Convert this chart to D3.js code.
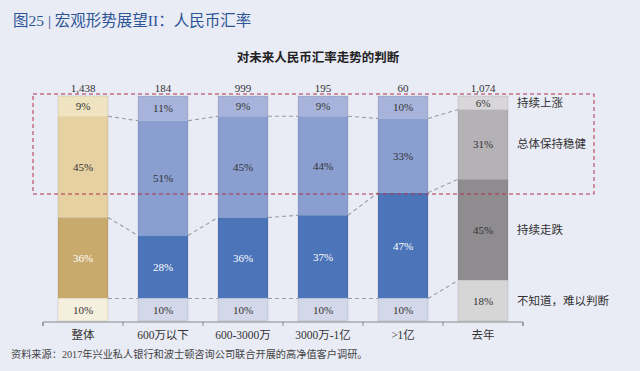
<!DOCTYPE html>
<html lang="zh">
<head>
<meta charset="UTF-8">
<title>对未来人民币汇率走势的判断</title>
<script src="https://d3js.org/d3.v7.min.js"></script>
<style>
  body { margin: 0; background: #e9ebf5; }
  svg { display: block; font-family: "Liberation Serif", "Noto Sans CJK SC", serif; }
</style>
</head>
<body>
<div id="chart"></div>
<script>
// categories, sample sizes and shares (top to bottom)
const categories = ["整体", "600万以下", "600-3000万", "3000万-1亿", ">1亿", "去年"];
const counts = ["1,438", "184", "999", "195", "60", "1,074"];
const seriesNames = ["持续上涨", "总体保持稳健", "持续走跌", "不知道，难以判断"];
const rise   = [9, 11, 9, 9, 10, 6];
const stable = [45, 51, 45, 44, 33, 31];
const fall   = [36, 28, 36, 37, 47, 45];
const unsure = [10, 10, 10, 10, 10, 18];

// colours per bar group: [rise, stable, fall, unsure]
const palettes = {
  total: ["#efe3c0", "#e6d1a3", "#c8aa6c", "#f5efdd"],
  blue:  ["#a7b3da", "#8a9ed0", "#4c74b9", "#d3d7ea"],
  gray:  ["#d8d6d8", "#b5b2b6", "#8e8c8f", "#d7d6d6"]
};
const paletteOf = i => i === 0 ? palettes.total : (i === 5 ? palettes.gray : palettes.blue);
const textColors = ["#333", "#333", "#fff", "#333"];

const W = 640, H = 371;
const svg = d3.select("#chart").append("svg").attr("width", W).attr("height", H);

svg.append("rect").attr("width", W).attr("height", H).attr("fill", "#e9ebf5");

// header and title
svg.append("text").attr("x", 13).attr("y", 26)
  .attr("font-size", 15.5).attr("fill", "#2d5596")
  .text("图25 | 宏观形势展望II：人民币汇率");
svg.append("text").attr("x", 318).attr("y", 62)
  .attr("text-anchor", "middle").attr("font-size", 12.5).attr("font-weight", "bold")
  .attr("font-family", "Noto Sans CJK SC").attr("fill", "#222")
  .text("对未来人民币汇率走势的判断");

const x = d3.scaleBand().domain(categories).range([43, 523]).paddingInner(0.375).paddingOuter(0.1875);
const y = d3.scaleLinear().domain([0, 100]).range([321, 96]);

const table = categories.map((c, i) => {
  const vals = [rise[i], stable[i], fall[i], unsure[i]];
  let top = 100;
  return vals.map((v, k) => {
    const seg = { cat: c, i, k, v, y0: top, y1: top - v };
    top -= v;
    return seg;
  });
});

// dashed connectors between neighbouring bars
const g = svg.append("g");
for (let i = 0; i < categories.length - 1; i++) {
  for (let k = 0; k < 3; k++) {
    const a = table[i][k].y1, b = table[i + 1][k].y1;
    g.append("line")
      .attr("x1", x(categories[i]) + x.bandwidth()).attr("y1", y(a))
      .attr("x2", x(categories[i + 1])).attr("y2", y(b))
      .attr("stroke", "#9a9ca8").attr("stroke-width", 1.1)
      .attr("stroke-dasharray", "4,3");
  }
}

// segments
table.forEach(segs => {
  const pal = paletteOf(segs[0].i);
  segs.forEach(s => {
    g.append("rect")
      .attr("x", x(s.cat)).attr("width", x.bandwidth())
      .attr("y", y(s.y0)).attr("height", y(s.y1) - y(s.y0))
      .attr("fill", pal[s.k]);
    g.append("text")
      .attr("x", x(s.cat) + x.bandwidth() / 2)
      .attr("y", (y(s.y0) + y(s.y1)) / 2 + 4)
      .attr("text-anchor", "middle").attr("font-size", 11)
      .attr("fill", s.i === 5 ? "#333" : textColors[s.k])
      .text(s.v + "%");
  });
  g.append("rect")
    .attr("x", x(segs[0].cat)).attr("width", x.bandwidth())
    .attr("y", y(100)).attr("height", y(0) - y(100))
    .attr("fill", "none").attr("stroke", "rgba(0,0,0,0.12)").attr("stroke-width", 0.8);
});

// sample sizes
svg.selectAll(".count").data(categories).enter().append("text")
  .attr("x", d => x(d) + x.bandwidth() / 2).attr("y", 92)
  .attr("text-anchor", "middle").attr("font-size", 11).attr("fill", "#333")
  .text((d, i) => counts[i]);

// series labels aligned to last bar
const last = table[table.length - 1];
seriesNames.forEach((n, k) => {
  svg.append("text")
    .attr("x", 517).attr("y", (y(last[k].y0) + y(last[k].y1)) / 2 + 4)
    .attr("font-size", 11.5).attr("font-family", "Noto Sans CJK SC").attr("fill", "#333")
    .text(n);
});

// x axis
const axis = svg.append("g").attr("transform", "translate(0,322)")
  .call(d3.axisBottom(x).tickSize(0).tickPadding(9));
axis.select(".domain").attr("stroke", "#888").attr("d", "M43,4V0H523V4");
axis.selectAll("text").attr("font-size", 11.5).attr("fill", "#333")
  .attr("font-family", "Liberation Serif, Noto Sans CJK SC");
const step = x.step();
d3.range(categories.length + 1).forEach(j => {
  const tx = 43 + j * step;
  axis.append("line").attr("x1", tx).attr("x2", tx).attr("y1", 0).attr("y2", 4).attr("stroke", "#888");
});

// dashed highlight box
svg.append("rect").attr("x", 33).attr("y", 94).attr("width", 561).attr("height", 100)
  .attr("fill", "none").attr("stroke", "#b0304a").attr("stroke-width", 1)
  .attr("stroke-dasharray", "4,3");

// source
svg.append("text").attr("x", 11).attr("y", 358)
  .attr("font-size", 10.2).attr("fill", "#444")
  .text("资料来源：2017年兴业私人银行和波士顿咨询公司联合开展的高净值客户调研。");
</script>
</body>
</html>
